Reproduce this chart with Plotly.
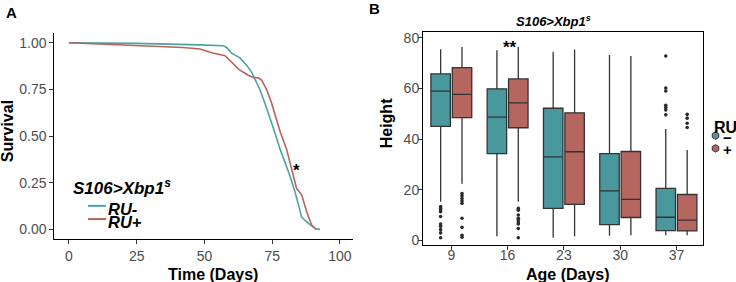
import plotly.graph_objects as go

W, H = 736, 282
FONT = "Liberation Sans, Arial, sans-serif"
TEAL = "#48989E"
RED = "#B5665F"
TEAL_LINE = "#4AA3A5"
RED_LINE = "#B8625C"
TICKCOL = "#4D4D4D"

# ---------------- Panel A: survival curves ----------------
days_minus = [0, 25, 48.3, 56.9, 58.2, 60.0, 63.1, 65.6, 67.4, 68.6, 70.5, 72.3, 74.2, 76.0,
              77.9, 79.7, 81.5, 83.4, 85.9, 88.9, 91.1, 92.6]
surv_minus = [1.0, 0.997, 0.989, 0.984, 0.975, 0.945, 0.919, 0.879, 0.843, 0.808, 0.747, 0.676, 0.597, 0.518,
              0.430, 0.360, 0.289, 0.202, 0.064, 0.025, 0.003, 0.0]
days_plus = [0, 23.7, 42, 48.3, 53, 57.6, 60.0, 62.8, 66.2, 68.0, 69.9, 71.1, 73.0, 74.8, 76.6,
             78.0, 80.3, 82.2, 84.0, 85.9, 87.7, 89.5, 91.1]
surv_plus = [1.0, 0.988, 0.975, 0.967, 0.945, 0.931, 0.896, 0.856, 0.826, 0.814, 0.812, 0.800, 0.747, 0.676, 0.588,
             0.52, 0.43, 0.325, 0.219, 0.184, 0.096, 0.025, 0.0]
surv_xticks = [0, 25, 50, 75, 100]
surv_yticks = [0.0, 0.25, 0.5, 0.75, 1.0]
surv_ytick_labels = ["0.00", "0.25", "0.50", "0.75", "1.00"]

# ---------------- Panel B: boxplots ----------------
ages = ["9", "16", "23", "30", "37"]
minus_q1 = [45.0, 34.3, 12.6, 6.2, 3.8]
minus_median = [59.0, 48.7, 33.0, 19.5, 9.1]
minus_q3 = [65.8, 59.9, 52.2, 34.3, 20.5]
minus_low = [15.2, 1.6, 1.0, 1.8, 2.0]
minus_high = [75.5, 75.1, 74.6, 73.3, 44.0]
plus_q1 = [48.5, 44.5, 14.2, 9.0, 3.7]
plus_median = [57.7, 54.3, 35.0, 16.2, 8.0]
plus_q3 = [68.3, 63.8, 50.4, 35.1, 18.1]
plus_low = [22.3, 15.2, 1.6, 2.0, 2.0]
plus_high = [76.4, 76.4, 75.4, 72.9, 35.7]
minus_outliers = [
    [13.3, 12.6, 12.0, 11.3, 9.4, 6.4, 5.5, 4.2, 2.9, 1.0],
    [],
    [],
    [],
    [72.9, 60.2, 59.0, 53.4, 52.5, 51.5, 49.6],
]
plus_outliers = [
    [18.5, 17.6, 16.5, 15.5, 14.6, 8.7, 5.1, 2.0, 1.2],
    [12.6, 11.9, 10.0, 8.7, 8.1, 7.2, 6.4, 4.6, 1.0],
    [],
    [],
    [49.8, 48.3, 46.3, 44.6],
]
height_yticks = [0, 20, 40, 60, 80]

pos = list(range(1, len(ages) + 1))
DODGE = 0.19
BOXW = 0.346


def px(x):
    return x / W


def py(y):
    return 1 - y / H


fig = go.Figure()

# survival lines
fig.add_trace(go.Scatter(x=days_minus, y=surv_minus, mode="lines", line=dict(color=TEAL_LINE, width=1.6),
                         xaxis="x", yaxis="y", showlegend=False, name="RU-"))
fig.add_trace(go.Scatter(x=days_plus, y=surv_plus, mode="lines", line=dict(color=RED_LINE, width=1.6),
                         xaxis="x", yaxis="y", showlegend=False, name="RU+"))

# boxes
for name, q1, med, q3, lo, hi, col, off, outs in [
    ("−", minus_q1, minus_median, minus_q3, minus_low, minus_high, TEAL, -DODGE, minus_outliers),
    ("+", plus_q1, plus_median, plus_q3, plus_low, plus_high, RED, DODGE, plus_outliers),
]:
    xs = [p + off for p in pos]
    fig.add_trace(go.Box(x=xs, q1=q1, median=med, q3=q3, lowerfence=lo, upperfence=hi,
                         width=BOXW, fillcolor=col, line=dict(color="#333333", width=1.3),
                         whiskerwidth=0, boxpoints=False, xaxis="x2", yaxis="y2",
                         showlegend=False, name=name, hoverinfo="skip"))
    ox, oy = [], []
    for x, o in zip(xs, outs):
        ox += [x] * len(o)
        oy += o
    fig.add_trace(go.Scatter(x=ox, y=oy, mode="markers", marker=dict(color="#2b2b2b", size=3.6),
                             xaxis="x2", yaxis="y2", showlegend=False, hoverinfo="skip"))

# legend B keys (on a transparent pixel overlay axis)
fig.add_trace(go.Scatter(x=[715.5, 715.5], y=[136, 149], mode="markers",
                         marker=dict(symbol="hexagon", size=7.5, color=[TEAL, RED],
                                     line=dict(color="#333333", width=1)),
                         xaxis="x3", yaxis="y3", showlegend=False, hoverinfo="skip"))

axis_common = dict(showgrid=False, zeroline=False, showline=True, linecolor="black", linewidth=1,
                   ticks="outside", ticklen=4, tickwidth=1, tickcolor="#333333",
                   tickfont=dict(family=FONT, size=14, color=TICKCOL))

fig.update_layout(
    width=W, height=H, margin=dict(l=0, r=0, t=0, b=0),
    paper_bgcolor="white", plot_bgcolor="rgba(0,0,0,0)", showlegend=False, boxmode="overlay",
    xaxis=dict(domain=[54.3 / W, 352.7 / W], range=[-5.4, 104.7], tickvals=surv_xticks,
               anchor="y", **axis_common),
    yaxis=dict(domain=[py(241.7), py(31.3)], range=[-0.054, 1.054], tickvals=surv_yticks,
               ticktext=surv_ytick_labels, anchor="x", **axis_common),
    xaxis2=dict(domain=[423 / W, 702.7 / W], range=[0.497, 5.466], tickvals=pos, ticktext=ages,
                anchor="y2", mirror=True, ticklabelstandoff=-7, **axis_common),
    yaxis2=dict(domain=[py(247.7), py(30.7)], range=[-2.0, 82.3], tickvals=height_yticks,
                anchor="x2", mirror=True, ticklabelstandoff=-4, **axis_common),
    xaxis3=dict(domain=[0, 1], range=[0, W], visible=False, anchor="y3", fixedrange=True),
    yaxis3=dict(domain=[0, 1], range=[H, 0], visible=False, anchor="x3", fixedrange=True),
)

# legend A (manual)
fig.add_shape(type="line", xref="paper", yref="paper", x0=px(88), x1=px(106), y0=py(207.5), y1=py(207.5),
              line=dict(color=TEAL_LINE, width=2))
fig.add_shape(type="line", xref="paper", yref="paper", x0=px(88), x1=px(106), y0=py(221), y1=py(221),
              line=dict(color=RED_LINE, width=2))

ann = []


def text(x, y, s, size, xanchor="center", bold=True, italic=False, color="black", angle=0):
    t = s
    if bold:
        t = "<b>" + t + "</b>"
    if italic:
        t = "<i>" + t + "</i>"
    ann.append(dict(xref="paper", yref="paper", x=px(x), y=py(y), text=t, showarrow=False,
                    xanchor=xanchor, yanchor="middle", textangle=angle, borderpad=0,
                    font=dict(family=FONT, size=size, color=color)))


text(72, 188.5, "S106>Xbp1<sup>s</sup>", 17, xanchor="left", italic=True)
text(107, 210.5, "RU-", 16.5, xanchor="left", italic=True)
text(107, 224, "RU+", 16.5, xanchor="left", italic=True)
text(11, 10.5, "A", 15)
text(374, 7, "B", 15)
text(7.5, 132, "Survival", 16, angle=-90)
text(213, 277.5, "Time (Days)", 16)
text(386, 123.5, "Height", 16, angle=-90)
text(568, 277.5, "Age (Days)", 16)
text(553, 19, "S106>Xbp1<sup>s</sup>", 13, italic=True)
text(712.5, 128, "RU", 16, xanchor="left")
text(722, 137.5, "−", 15, xanchor="left")
text(722, 150.5, "+", 15, xanchor="left")

for a in ann:
    fig.add_annotation(**a)

# significance asterisks (data coordinates)
fig.add_annotation(x=84, y=0.339, xref="x", yref="y", text="<b>*</b>", showarrow=False,
                   yanchor="middle", yshift=-4, font=dict(family=FONT, size=17, color="black"))
fig.add_annotation(x=2.04, y=77.1, xref="x2", yref="y2", text="<b>**</b>", showarrow=False,
                   yanchor="middle", yshift=-2, font=dict(family=FONT, size=17, color="black"))
fig.add_annotation(x=5.36, y=85.8, xref="x2", yref="y2", text="<b>*</b>", showarrow=False,
                   yanchor="middle", yshift=-4, font=dict(family=FONT, size=17, color="black"))

fig.write_html("out.html", config={"displayModeBar": False},
               post_script="document.body.style.margin='0';document.body.style.overflow='hidden';")
